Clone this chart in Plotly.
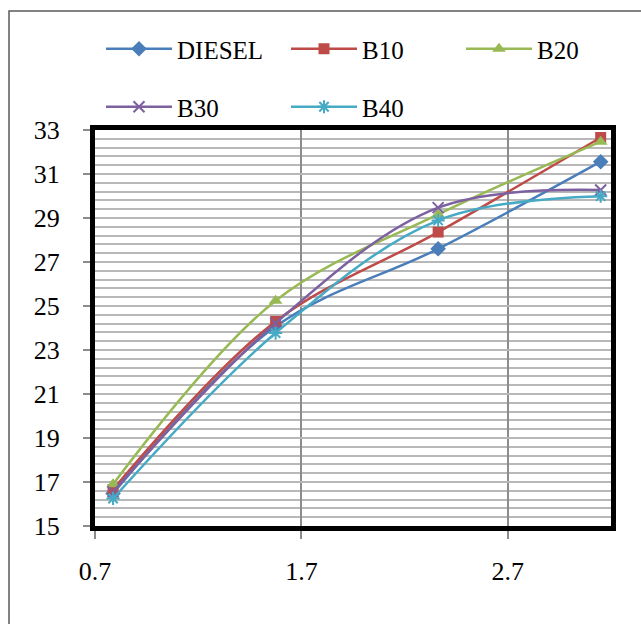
import plotly.graph_objects as go

# Measurement points (x) and the five fuel blends
x_vals = [0.7875, 1.575, 2.3625, 3.15]
diesel = [16.48, 24.07, 27.60, 31.56]
b10 = [16.66, 24.30, 28.36, 32.66]
b20 = [16.90, 25.24, 29.16, 32.47]
b30 = [16.55, 24.22, 29.47, 30.27]
b40 = [16.25, 23.77, 28.89, 29.99]

series_names = ["DIESEL", "B10", "B20", "B30", "B40"]
series_values = [diesel, b10, b20, b30, b40]
colors = ["#4A7EBB", "#BE4B48", "#98B954", "#7D60A0", "#46AAC5"]
symbols = ["diamond", "square", "triangle-up", "x-thin", "asterisk"]
sizes = [12, 11, 12, 11, 11]
# legend layout: first row split in two groups so the third column fits
legend_ids = ["legend", "legend", "legend3", "legend2", "legend2"]

x_ticks = [0.7, 1.7, 2.7]
y_ticks = [15, 17, 19, 21, 23, 25, 27, 29, 31, 33]

FONT = "Liberation Serif"

fig = go.Figure()
for name, vals, col, sym, sz, lg in zip(series_names, series_values, colors,
                                        symbols, sizes, legend_ids):
    thin = sym in ("x-thin", "asterisk")
    fig.add_trace(go.Scatter(
        x=x_vals, y=vals, name=name, mode="lines+markers",
        line=dict(color=col, width=2.5, shape="spline", smoothing=1.0),
        marker=dict(symbol=sym, size=sz, color=col,
                    line=dict(color=col, width=2 if thin else 0)),
        legend=lg,
    ))

L, R, T, B = 95, 30, 130, 98
W, H = 641, 624
pw, ph = W - L - R, H - T - B

def px_x(p):
    return (p - L) / pw

def px_y(p):
    return (H - B - p) / ph

ITEM_W = 66
COL_W = 180
legend_style = dict(
    orientation="h", xanchor="left", yanchor="middle",
    itemwidth=ITEM_W, entrywidth=COL_W - ITEM_W - 10, entrywidthmode="pixels",
    font=dict(size=25, family=FONT), bgcolor="rgba(0,0,0,0)",
)
col0 = 177 - ITEM_W - 10

fig.update_layout(
    width=W, height=H,
    margin=dict(l=L, r=R, t=T, b=B, pad=0, autoexpand=False),
    paper_bgcolor="white", plot_bgcolor="white",
    font=dict(family=FONT, color="black"),
    xaxis=dict(
        range=[0.7, 3.2], tickvals=x_ticks, ticktext=[str(v) for v in x_ticks],
        showgrid=True, gridcolor="#8C8C8C", gridwidth=2,
        zeroline=False, showline=True, linecolor="black", linewidth=5, mirror=True,
        ticks="outside", ticklen=8, tickwidth=2, tickcolor="#8C8C8C",
        tickfont=dict(size=26, family=FONT), ticklabelstandoff=10,
    ),
    yaxis=dict(
        range=[15, 33], tickvals=y_ticks,
        showgrid=True, gridcolor="#B8B8B8", gridwidth=2,
        minor=dict(dtick=0.4, tick0=15, showgrid=True, gridcolor="#B8B8B8", gridwidth=2),
        zeroline=False, showline=True, linecolor="black", linewidth=5, mirror=True,
        ticks="outside", ticklen=7, tickwidth=2, tickcolor="#8C8C8C",
        tickfont=dict(size=26, family=FONT), ticklabelstandoff=18,
    ),
    legend=dict(legend_style, x=px_x(col0), y=px_y(49)),
    legend3=dict(legend_style, x=px_x(col0 + 2 * COL_W), y=px_y(49), entrywidth=50),
    legend2=dict(legend_style, x=px_x(col0), y=px_y(107)),
    shapes=[dict(
        type="rect", xref="paper", yref="paper",
        x0=px_x(9), y0=px_y(700), x1=px_x(700), y1=px_y(11),
        line=dict(color="#595959", width=1.5), layer="below",
    )],
)

fig.write_html("out.html")
